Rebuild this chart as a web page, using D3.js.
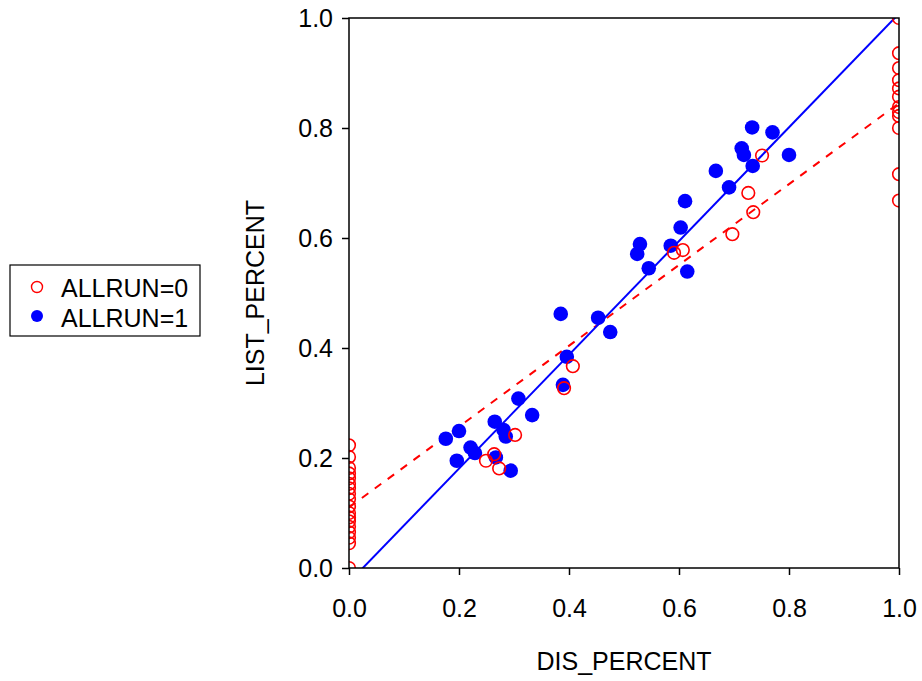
<!DOCTYPE html>
<html><head><meta charset="utf-8">
<script src="https://cdn.jsdelivr.net/npm/d3@7"></script>
<style>body{margin:0;background:#fff}svg{font-family:"Liberation Sans",Arial,sans-serif}</style>
</head><body><svg id="c" width="922" height="681"></svg>
<script>
// ALLRUN=0 (open red circles)
const run0X = [0,0,0,0,0,0,0,0,0,0,0,0,0,0,0,0,0,0,
  0.249,0.264,0.273,0.302,0.391,0.407,0.591,0.607,0.697,0.726,0.735,0.751,
  1,1,1,1,1,1,1,1,1,1,1,1];
const run0Y = [0.223,0.202,0.182,0.172,0.163,0.153,0.145,0.135,0.125,0.112,0.100,0.092,0.085,0.075,0.065,0.055,0.045,0.0,
  0.195,0.207,0.181,0.242,0.327,0.367,0.573,0.578,0.607,0.682,0.647,0.750,
  1.0,0.936,0.909,0.887,0.872,0.857,0.838,0.829,0.822,0.800,0.716,0.668];
// ALLRUN=1 (filled blue circles)
const run1X = [0.176,0.200,0.196,0.221,0.229,0.265,0.281,0.285,0.267,0.294,0.308,0.333,
  0.385,0.389,0.396,0.453,0.475,0.524,0.529,0.545,0.585,0.603,0.611,0.615,
  0.667,0.691,0.714,0.718,0.734,0.733,0.770,0.800];
const run1Y = [0.235,0.249,0.195,0.219,0.209,0.266,0.251,0.239,0.201,0.177,0.308,0.278,
  0.462,0.333,0.384,0.455,0.429,0.571,0.589,0.545,0.586,0.619,0.667,0.539,
  0.722,0.692,0.763,0.751,0.731,0.801,0.792,0.751];
// fitted lines: [intercept, slope]
const fit0 = [0.110, 0.735];
const fit1 = [-0.026, 1.034];
const tickVals = [0.0,0.2,0.4,0.6,0.8,1.0];
const tickLabels = ["0.0","0.2","0.4","0.6","0.8","1.0"];
const legendLabels = ["ALLRUN=0","ALLRUN=1"];

const FS = 25;
const svg = d3.select("#c");
const L=349,R=899,T=18,B=568;
const x = d3.scaleLinear().domain([0,1]).range([L,R]);
const y = d3.scaleLinear().domain([0,1]).range([B,T]);

svg.append("defs").append("clipPath").attr("id","clip")
  .append("rect").attr("x",L).attr("y",T).attr("width",R-L).attr("height",B-T);
const g = svg.append("g").attr("clip-path","url(#clip)");

// lines
function fitLine(f){ return [[0,f[0]],[1,f[0]+f[1]]]; }
const line = d3.line().x(d=>x(d[0])).y(d=>y(d[1]));
g.append("path").attr("d",line(fitLine(fit0))).attr("stroke","#ff0000")
  .attr("stroke-width",2).attr("stroke-dasharray","8,8").attr("fill","none");
g.append("path").attr("d",line(fitLine(fit1))).attr("stroke","#0000ff")
  .attr("stroke-width",2).attr("fill","none");

// points
g.selectAll(".p1").data(run1X.map((v,i)=>[v,run1Y[i]])).join("circle")
  .attr("cx",d=>x(d[0])).attr("cy",d=>y(d[1])).attr("r",7.3).attr("fill","#0000ff");
g.selectAll(".p0").data(run0X.map((v,i)=>[v,run0Y[i]])).join("circle")
  .attr("cx",d=>x(d[0])).attr("cy",d=>y(d[1])).attr("r",6.3)
  .attr("fill","none").attr("stroke","#ff0000").attr("stroke-width",1.6);

// axes
const xa = svg.append("g").attr("transform",`translate(0,${B})`)
  .call(d3.axisBottom(x).tickValues(tickVals).tickFormat((d,i)=>tickLabels[i]).tickSize(7).tickSizeOuter(0));
const ya = svg.append("g").attr("transform",`translate(${L},0)`)
  .call(d3.axisLeft(y).tickValues(tickVals).tickFormat((d,i)=>tickLabels[i]).tickSize(7).tickSizeOuter(0));
[xa,ya].forEach(a=>{a.select(".domain").remove();
  a.selectAll("line").attr("stroke","#000").attr("stroke-width",1.5);
  a.selectAll("text").attr("font-size",FS).attr("fill","#000").attr("font-family","Liberation Sans, Arial, sans-serif");});
xa.selectAll("text").attr("y",49).attr("dy",0);
ya.selectAll("text").attr("x",-16).attr("dy","0.35em");

svg.append("rect").attr("x",L).attr("y",T).attr("width",R-L).attr("height",B-T)
  .attr("fill","none").attr("stroke","#000").attr("stroke-width",1.5);

svg.append("text").attr("x",(L+R)/2).attr("y",670).attr("text-anchor","middle")
  .attr("font-size",FS).text("DIS_PERCENT");
svg.append("text").attr("transform",`translate(264,${(T+B)/2}) rotate(-90)`)
  .attr("text-anchor","middle").attr("font-size",FS).text("LIST_PERCENT");

// legend
const lg = svg.append("g");
lg.append("rect").attr("x",10).attr("y",265).attr("width",190).attr("height",71)
  .attr("fill","none").attr("stroke","#000").attr("stroke-width",1.2);
lg.append("circle").attr("cx",37).attr("cy",287).attr("r",5.5).attr("fill","none")
  .attr("stroke","#ff0000").attr("stroke-width",1.4);
lg.append("circle").attr("cx",37).attr("cy",316).attr("r",6).attr("fill","#0000ff");
legendLabels.forEach((t,i)=>lg.append("text").attr("x",61).attr("y",297+i*30)
  .attr("font-size",FS).text(t));
</script></body></html>
